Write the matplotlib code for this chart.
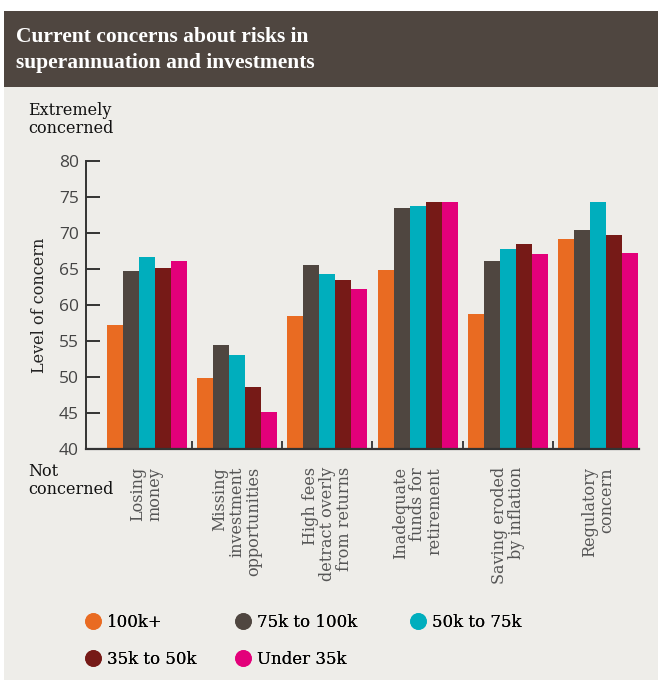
import numpy as np
import matplotlib
matplotlib.use("Agg")
import matplotlib.pyplot as plt
from matplotlib.patches import Rectangle
from matplotlib.lines import Line2D

# categories and income bands
categories = [
    "Losing\nmoney",
    "Missing\ninvestment\nopportunities",
    "High fees\ndetract overly\nfrom returns",
    "Inadequate\nfunds for\nretirement",
    "Saving eroded\nby inflation",
    "Regulatory\nconcern",
]
bands = ["100k+", "75k to 100k", "50k to 75k", "35k to 50k", "Under 35k"]
colors = ["#e96b22", "#4f4640", "#00aebd", "#761a17", "#e3007a"]

# level of concern per band, one value per category
v_100k_plus = [57.2, 49.9, 58.5, 64.9, 58.7, 69.2]
v_75_100 = [64.7, 54.4, 65.6, 73.5, 66.1, 70.4]
v_50_75 = [66.7, 53.1, 64.3, 73.7, 67.8, 74.3]
v_35_50 = [65.1, 48.6, 63.5, 74.3, 68.5, 69.7]
v_under_35 = [66.1, 45.1, 62.2, 74.3, 67.1, 67.2]
series = [v_100k_plus, v_75_100, v_50_75, v_35_50, v_under_35]

y_ticks = [40, 45, 50, 55, 60, 65, 70, 75, 80]

BG = "#eeede9"
SERIF = "DejaVu Serif"

fig = plt.figure(figsize=(6.58, 6.8), dpi=100, facecolor=BG)

# white margins and the dark header band
fig.patches.append(Rectangle((0, 0), 4 / 658, 1, transform=fig.transFigure,
                             facecolor="white", edgecolor="none", zorder=0))
fig.patches.append(Rectangle((0, 1 - 11 / 680), 1, 11 / 680, transform=fig.transFigure,
                             facecolor="white", edgecolor="none", zorder=0))
fig.patches.append(Rectangle((4 / 658, 1 - 87 / 680), 1, 76 / 680, transform=fig.transFigure,
                             facecolor="#4f4640", edgecolor="none", zorder=1))
fig.text(16 / 658, 1 - 50 / 680, "Current concerns about risks in\nsuperannuation and investments",
         color="white", fontsize=15.5, fontweight="bold", family="Liberation Serif",
         va="center", ha="left", linespacing=1.35)

ax = fig.add_axes([86 / 658, 1 - 449 / 680, (639 - 86) / 658, 288 / 680])
ax.set_facecolor(BG)

x = np.arange(len(categories))
n = len(series)
width = 0.177
for i, (vals, col, lab) in enumerate(zip(series, colors, bands)):
    offs = (i - (n - 1) / 2) * width
    ax.bar(x + offs, np.array(vals) - 40, width, bottom=40, color=col, label=lab,
           linewidth=0, zorder=2)

ax.set_ylim(40, 80)
ax.set_xlim(-0.67, 5.45)
ax.set_yticks(y_ticks)
ax.tick_params(axis="y", direction="in", length=10, width=1.4, color="#333333",
               labelsize=12.5, labelcolor="#444444", pad=5)
for t in ax.get_yticklabels():
    t.set_family("Open Sans")

# small separators between the groups
ax.set_xticks(x[:-1] + 0.5)
ax.set_xticklabels([])
ax.tick_params(axis="x", direction="in", length=6, width=1.2, color="#222222")

for s in ["top", "right"]:
    ax.spines[s].set_visible(False)
ax.spines["left"].set_color("#333333")
ax.spines["left"].set_linewidth(1.4)
ax.spines["bottom"].set_color("#333333")
ax.spines["bottom"].set_linewidth(1.6)

ax.set_ylabel("Level of concern", family=SERIF, fontsize=11.5, color="#222222", labelpad=8)

for xi, lab in zip(x, categories):
    ax.annotate(lab, xy=(xi, 0), xycoords=("data", "axes fraction"),
                xytext=(0, -13), textcoords="offset points",
                rotation=90, ha="center", va="top", multialignment="right",
                family=SERIF, fontsize=11.5, color="#555555", linespacing=1.0)

fig.text(28 / 658, 1 - 102 / 680, "Extremely\nconcerned", family=SERIF, fontsize=11.5,
         color="#111111", va="top", ha="left", linespacing=1.1)
fig.text(28 / 658, 1 - 463 / 680, "Not\nconcerned", family=SERIF, fontsize=11.5,
         color="#111111", va="top", ha="left", linespacing=1.1)

# legend: round markers, one small legend per column
handles = [Line2D([], [], marker="o", linestyle="none", markersize=12,
                  markerfacecolor=c, markeredgecolor="none") for c in colors]
columns = [([0, 3], 71), ([1, 4], 221), ([2], 396)]
for idx, xpx in columns:
    leg = fig.legend([handles[k] for k in idx], [bands[k] for k in idx],
                     loc="upper left", bbox_to_anchor=(xpx / 658, 1 - 599 / 680),
                     frameon=False, handlelength=0.8, handletextpad=0.45,
                     labelspacing=1.2, prop={"family": SERIF, "size": 12})
    fig.add_artist(leg)

fig.savefig("out.png", dpi=100, facecolor=BG)
